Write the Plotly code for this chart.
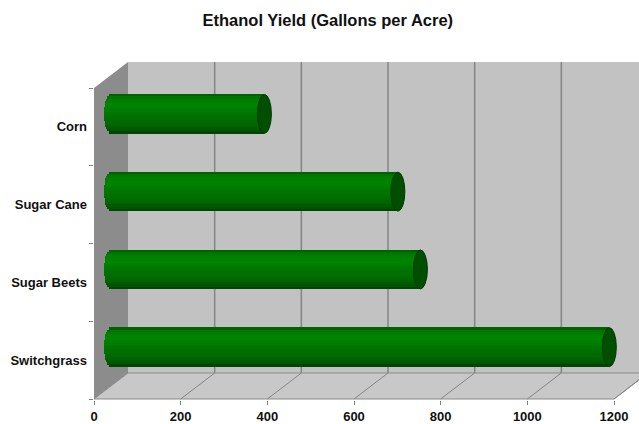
import plotly.graph_objects as go
import numpy as np

# ---- data ----
categories = ["Corn", "Sugar Cane", "Sugar Beets", "Switchgrass"]
values = [354, 662, 714, 1150]
x_ticks = [0, 200, 400, 600, 800, 1000, 1200]
title = "Ethanol Yield (Gallons per Acre)"

# ---- geometry (pixel helpers) ----
W, H = 639, 424
ML, MR, MT, MB = 94, 0, 40, 24
PX_PER_X = 520 / 1200.0          # px per data unit on front plane
PX_PER_Y = 77.75                 # px per category
XMAX = (W - ML - MR) / PX_PER_X
Y_BOT = 3.5 + 1 / PX_PER_Y
Y_TOP = -0.5 - 48 / PX_PER_Y
DX = 34 / PX_PER_X               # depth offset in x units
DY = 26 / PX_PER_Y               # depth offset in y units (upward)
CAP_A = 7 / PX_PER_X             # half-width of cylinder cap
BAR_H = 39 / PX_PER_Y            # cylinder thickness

ypos = list(range(len(categories)))

fig = go.Figure()

# cylinder strips (gradient)
stops = [(-1.0, (0, 88, 0)), (-0.8, (0, 122, 0)), (-0.45, (0, 134, 0)),
         (0.0, (0, 118, 0)), (0.5, (0, 104, 0)), (0.85, (0, 84, 0)), (1.0, (0, 60, 0))]

def col(t):
    for (t0, c0), (t1, c1) in zip(stops[:-1], stops[1:]):
        if t0 <= t <= t1:
            f = (t - t0) / (t1 - t0)
            c = [round(a + (b - a) * f) for a, b in zip(c0, c1)]
            return "rgb(%d,%d,%d)" % tuple(c)
    return "rgb(0,60,0)"

N = 18
sh = BAR_H / N
for k in range(N):
    t = -1 + (k + 0.5) * 2 / N
    off = t * BAR_H / 2
    base = -CAP_A * np.sqrt(max(0.0, 1 - t * t))
    fig.add_trace(go.Bar(
        y=[p + off for p in ypos],
        x=[v - base for v in values],
        base=base,
        orientation="h",
        width=sh * 1.15,
        marker=dict(color=col(t), line=dict(width=0)),
        xaxis="x2", yaxis="y2",
        hoverinfo="skip", showlegend=False,
    ))

shapes = []
grid_c = "#858585"
# back wall
shapes.append(dict(type="path", xref="x", yref="y", layer="below",
                   path=f"M {DX},{-0.5-DY} L {XMAX+5},{-0.5-DY} L {XMAX+5},{3.5-DY} L {DX},{3.5-DY} Z",
                   fillcolor="#C2C2C2", line=dict(width=0)))
# side wall
shapes.append(dict(type="path", xref="x", yref="y", layer="below",
                   path=f"M 0,-0.5 L {DX},{-0.5-DY} L {DX},{3.5-DY} L 0,3.5 Z",
                   fillcolor="#8C8C8C", line=dict(width=0)))
# floor
shapes.append(dict(type="path", xref="x", yref="y", layer="below",
                   path=f"M 0,3.5 L 1200,3.5 L {1200+DX},{3.5-DY} L {DX},{3.5-DY} Z",
                   fillcolor="#C8C8C8", line=dict(color="#8A8A8A", width=1)))
# gridlines
for v in x_ticks[1:]:
    shapes.append(dict(type="line", xref="x", yref="y", layer="below",
                       x0=v + DX, x1=v + DX, y0=-0.5 - DY, y1=3.5 - DY,
                       line=dict(color=grid_c, width=1.5)))
    shapes.append(dict(type="line", xref="x", yref="y", layer="below",
                       x0=v, x1=v + DX, y0=3.5, y1=3.5 - DY,
                       line=dict(color=grid_c, width=1)))
# right end caps
for p, v in zip(ypos, values):
    shapes.append(dict(type="circle", xref="x2", yref="y2", layer="above",
                       x0=v - CAP_A, x1=v + CAP_A, y0=p - BAR_H / 2, y1=p + BAR_H / 2,
                       fillcolor="#004F00", line=dict(color="#003A00", width=1)))

font = "Liberation Sans, Arial, sans-serif"
fig.update_layout(
    width=W, height=H,
    margin=dict(l=ML, r=MR, t=MT, b=MB, pad=0),
    paper_bgcolor="white", plot_bgcolor="white",
    barmode="overlay", bargap=0,
    showlegend=False,
    title=dict(text="<b>%s</b>" % title, x=0.513, xanchor="center", y=0.952, yanchor="middle",
               font=dict(family=font, size=16.5, color="#111111")),
    shapes=shapes,
    xaxis=dict(range=[0, XMAX], tickvals=x_ticks, ticktext=["<b>%d</b>" % v for v in x_ticks],
               showgrid=False, zeroline=False, showline=False,
               ticks="outside", ticklen=4, tickcolor="#808080",
               tickfont=dict(family=font, size=13, color="#111111"), fixedrange=True),
    yaxis=dict(range=[Y_BOT, Y_TOP], tickvals=ypos, ticktext=["<b>%s</b>" % c for c in categories],
               showgrid=False, zeroline=False, showline=False, ticks="",
               ticklabelstandoff=6,
               minor=dict(tickvals=[-0.5, 0.5, 1.5, 2.5, 3.5], ticks="outside", ticklen=4,
                          tickcolor="#808080", showgrid=False),
               tickfont=dict(family=font, size=13, color="#111111"), fixedrange=True),
    xaxis2=dict(overlaying="x", range=[-DX / 2, XMAX - DX / 2], visible=False, fixedrange=True),
    yaxis2=dict(overlaying="y", range=[Y_BOT + DY / 2, Y_TOP + DY / 2], visible=False, fixedrange=True),
)

fig.write_html("out.html")
